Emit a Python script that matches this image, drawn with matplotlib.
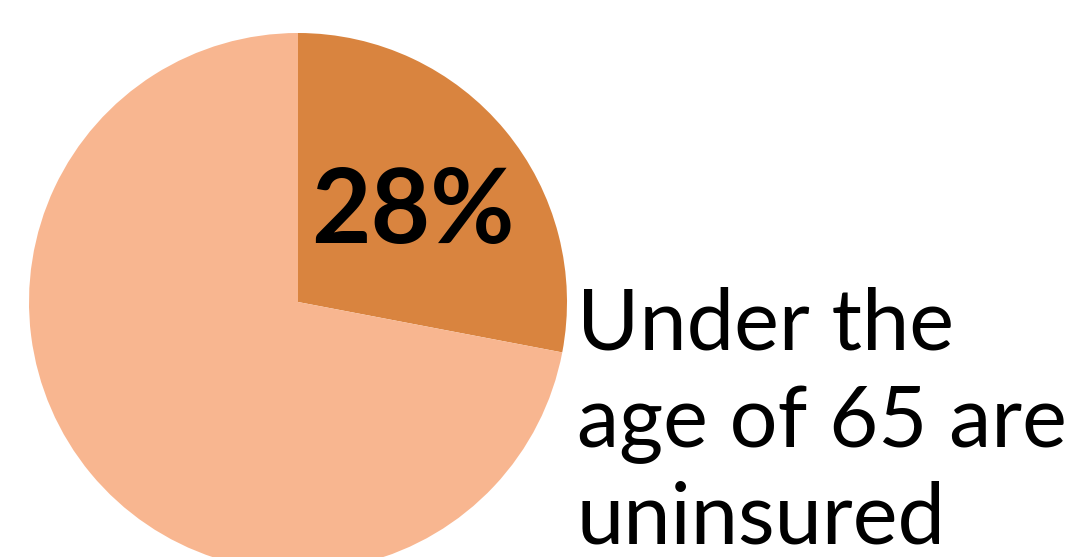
import matplotlib.pyplot as plt

# data
shares = [28, 72]
colors = ["#D9843F", "#F8B690"]
pct_label = "28%"
caption_lines = ["Under the", "age of 65 are", "uninsured"]

W, H = 1072, 557
fig = plt.figure(figsize=(W / 100, H / 100), dpi=100)
ax = fig.add_axes([0, 0, 1, 1])

ax.pie(shares, colors=colors, startangle=90, counterclock=False,
       center=(298, H - 302), radius=269, frame=True,
       wedgeprops=dict(linewidth=0, antialiased=True))
ax.set_xlim(0, W)
ax.set_ylim(0, H)
ax.set_aspect("equal")
ax.axis("off")

ax.text(311, H - 243, pct_label, fontsize=74, family="Lato", fontweight="bold",
        ha="left", va="baseline", color="black")

baselines = [349, 447, 543]
for line, yb in zip(caption_lines, baselines):
    ax.text(577, H - yb, line, fontsize=61, family="Lato",
            ha="left", va="baseline", color="black")

fig.savefig("out.png", dpi=100, facecolor="white")
